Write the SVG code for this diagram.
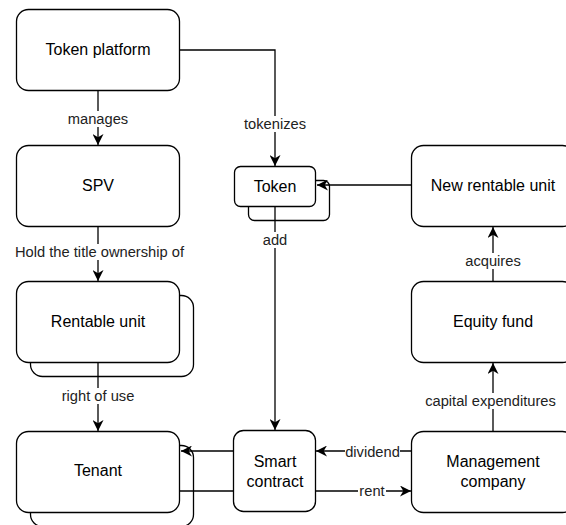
<svg xmlns="http://www.w3.org/2000/svg" width="566" height="525" viewBox="0 0 566 525">
<defs>
<marker id="arr" viewBox="0 0 10 10" refX="10" refY="5" markerWidth="11" markerHeight="11" markerUnits="userSpaceOnUse" orient="auto">
<path d="M0,0 L10,5 L0,10 L3,5 z" fill="#000"/>
</marker>
<style>
.box{fill:#fff;stroke:#000;stroke-width:1.3}
.t{font-family:"Liberation Sans",Arial,sans-serif;font-size:16px;fill:#000;text-anchor:middle}
.l{font-family:"Liberation Sans",Arial,sans-serif;font-size:14.7px;fill:#222;text-anchor:middle}
.e{fill:none;stroke:#000;stroke-width:1.3}
.bg{fill:#fff}
</style>
</defs>
<rect width="566" height="525" fill="#fff"/>
<g id="node-token-platform">
<rect class="box" x="16.5" y="9.5" width="163" height="81" rx="12"/>
<text class="t" x="98" y="55">Token platform</text>
</g>
<g id="node-spv">
<rect class="box" x="16.5" y="145.5" width="163" height="81" rx="12"/>
<text class="t" x="98" y="191">SPV</text>
</g>
<g id="node-token">
<rect class="box" x="248.5" y="180.5" width="81" height="40" rx="6"/>
<rect class="box" x="234.5" y="166.5" width="81" height="40" rx="6"/>
<text class="t" x="275" y="192">Token</text>
</g>
<g id="node-new-rentable-unit">
<rect class="box" x="411.5" y="145.5" width="163" height="81" rx="12"/>
<text class="t" x="493" y="191">New rentable unit</text>
</g>
<g id="node-rentable-unit">
<rect class="box" x="30.5" y="295.5" width="163" height="81" rx="12"/>
<rect class="box" x="16.5" y="281.5" width="163" height="81" rx="12"/>
<text class="t" x="98" y="327">Rentable unit</text>
</g>
<g id="node-equity-fund">
<rect class="box" x="411.5" y="281.5" width="163" height="81" rx="12"/>
<text class="t" x="493" y="327">Equity fund</text>
</g>
<g id="node-tenant">
<rect class="box" x="30.5" y="445.5" width="163" height="81" rx="12"/>
<rect class="box" x="16.5" y="431.5" width="163" height="81" rx="12"/>
<text class="t" x="98" y="476">Tenant</text>
</g>
<g id="node-smart-contract">
<rect class="box" x="233.5" y="430.5" width="82" height="81" rx="10"/>
<text class="t" x="275" y="467">Smart</text>
<text class="t" x="275" y="487">contract</text>
</g>
<g id="node-management-company">
<rect class="box" x="411.5" y="431.5" width="163" height="81" rx="12"/>
<text class="t" x="493" y="467">Management</text>
<text class="t" x="493" y="487">company</text>
</g>
<g id="connectors">
<line class="e" x1="98" y1="91" x2="98" y2="145" marker-end="url(#arr)"/>
<path class="e" d="M180,50 H275 V166" marker-end="url(#arr)"/>
<line class="e" x1="98" y1="227" x2="98" y2="281" marker-end="url(#arr)"/>
<line class="e" x1="98" y1="363" x2="98" y2="431" marker-end="url(#arr)"/>
<line class="e" x1="275" y1="207" x2="275" y2="430" marker-end="url(#arr)"/>
<line class="e" x1="411" y1="185" x2="317" y2="185" marker-end="url(#arr)"/>
<line class="e" x1="493" y1="281" x2="493" y2="227" marker-end="url(#arr)"/>
<line class="e" x1="493" y1="431" x2="493" y2="363" marker-end="url(#arr)"/>
<line class="e" x1="411" y1="451" x2="316" y2="451" marker-end="url(#arr)"/>
<line class="e" x1="316" y1="491" x2="411" y2="491" marker-end="url(#arr)"/>
<line class="e" x1="233" y1="451" x2="181" y2="451" marker-end="url(#arr)"/>
<line class="e" x1="180" y1="491" x2="233" y2="491"/>
</g>
<g id="connector-labels">
<rect class="bg" x="67" y="111" width="62" height="16"/>
<text class="l" x="98" y="124">manages</text>
<rect class="bg" x="242" y="116" width="66" height="16"/>
<text class="l" x="275" y="129">tokenizes</text>
<rect class="bg" x="13" y="244" width="174" height="16"/>
<text class="l" x="99.5" y="257">Hold the title ownership of</text>
<rect class="bg" x="262" y="232" width="26" height="16"/>
<text class="l" x="275" y="245">add</text>
<rect class="bg" x="463" y="253" width="60" height="16"/>
<text class="l" x="493" y="266">acquires</text>
<rect class="bg" x="59" y="388" width="78" height="16"/>
<text class="l" x="98" y="401">right of use</text>
<rect class="bg" x="423" y="393" width="135" height="16"/>
<text class="l" x="490.5" y="406">capital expenditures</text>
<rect class="bg" x="345" y="444" width="55" height="16"/>
<text class="l" x="372.5" y="457">dividend</text>
<rect class="bg" x="358" y="483" width="28" height="16"/>
<text class="l" x="372" y="496">rent</text>
</g>
</svg>
